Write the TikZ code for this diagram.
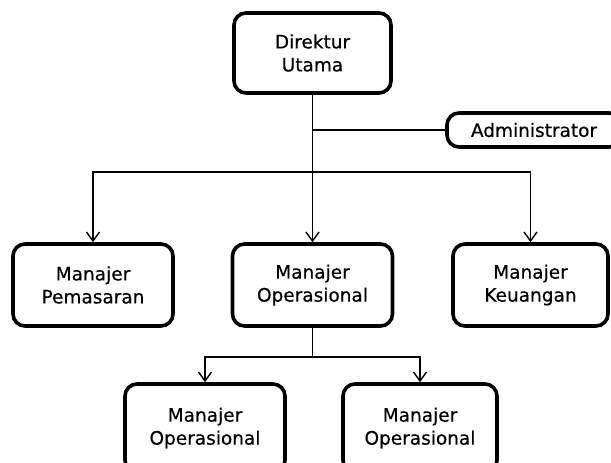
\documentclass[tikz,border=0pt]{standalone}
\usepackage{fontspec}
\setmainfont{DejaVu Sans}
\newfontfamily\boxfont[FakeBold=0.5]{DejaVu Sans}
\usetikzlibrary{arrows.meta}
\begin{document}
\begin{tikzpicture}[x=1pt,y=-1pt,
  box/.style={draw=black, line width=3.6pt, rounded corners=12pt, inner sep=0pt,
    align=center, font=\boxfont\fontsize{18.5}{23}\selectfont},
  conn/.style={line width=1.6pt},
  arr/.style={conn, -{Straight Barb[length=9pt,width=13pt,line width=1.4pt]}}]
\useasboundingbox (0,0) rectangle (611,463);
\clip (0,0) rectangle (611,463);
\fill[white] (0,0) rectangle (611,463);
% nodes
\node[box, minimum width=157pt, minimum height=80pt] (dir) at (312.5,53) {Direktur\\Utama};
\node[box, minimum width=174pt, minimum height=34pt] (adm) at (534,130) {Administrator};
\node[box, minimum width=160pt, minimum height=82pt] (pm) at (93,285) {Manajer\\Pemasaran};
\node[box, minimum width=160pt, minimum height=82pt] (op) at (312.5,285) {Manajer\\Operasional};
\node[box, minimum width=155pt, minimum height=82pt] (ku) at (530.5,285) {Manajer\\Keuangan};
\node[box, minimum width=160pt, minimum height=88pt] (oa) at (205,428) {Manajer\\Operasional};
\node[box, minimum width=154pt, minimum height=88pt] (ob) at (420,428) {Manajer\\Operasional};
% junctions
\coordinate (j1) at ([yshift=-77pt]dir.south);
\coordinate (j2) at ([yshift=-29pt]op.south);
% connectors
\draw[conn] (dir.south) -- (j1);
\draw[conn] (dir.south |- adm.west) -- (adm.west);
\draw[arr] (j1) -| (pm.north);
\draw[arr] (j1) -- (op.north);
\draw[arr] (j1) -| (ku.north);
\draw[conn] (op.south) -- (j2);
\draw[arr] (j2) -| (oa.north);
\draw[arr] (j2) -| (ob.north);
\end{tikzpicture}
\end{document}
